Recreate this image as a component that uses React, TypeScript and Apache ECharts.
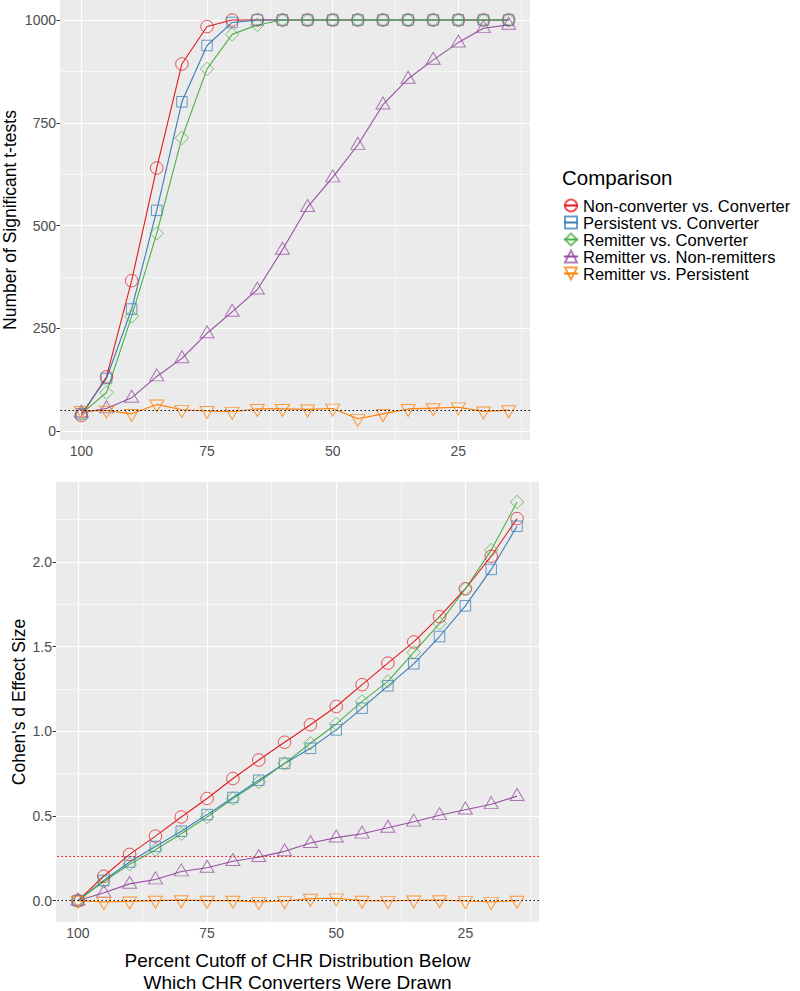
import React, { useEffect, useRef } from 'react';
import * as echarts from 'echarts';

// ---- data ----
const cutoffs = [100, 95, 90, 85, 80, 75, 70, 65, 60, 55, 50, 45, 40, 35, 30, 25, 20, 15];
const seriesNames = [
  'Non-converter vs. Converter',
  'Persistent vs. Converter',
  'Remitter vs. Converter',
  'Remitter vs. Non-remitters',
  'Remitter vs. Persistent',
];
const colors = ['#E41A1C', '#377EB8', '#4DAF4A', '#984EA3', '#FF7F00'];

// Number of significant t-tests (top panel)
const sigNonConv = [38, 132, 366, 640, 893, 984, 1000, 1000, 1000, 1000, 1000, 1000, 1000, 1000, 1000, 1000, 1000, 1000];
const sigPersConv = [42, 128, 297, 537, 801, 938, 994, 1000, 1000, 1000, 1000, 1000, 1000, 1000, 1000, 1000, 1000, 1000];
const sigRemConv = [42, 94, 279, 481, 713, 881, 965, 988, 1000, 1000, 1000, 1000, 1000, 1000, 1000, 1000, 1000, 1000];
const sigRemNon = [45, 55, 81, 133, 177, 238, 290, 344, 441, 545, 617, 696, 794, 857, 903, 945, 980, 988];
const sigRemPers = [49, 50, 42, 65, 52, 49, 47, 54, 54, 53, 55, 30, 42, 54, 56, 58, 48, 51];

// Cohen's d effect size (bottom panel)
const dNonConv = [0, 0.144, 0.273, 0.381, 0.494, 0.603, 0.721, 0.83, 0.935, 1.038, 1.146, 1.275, 1.402, 1.527, 1.676, 1.841, 2.033, 2.255];
const dPersConv = [0, 0.119, 0.228, 0.32, 0.41, 0.508, 0.609, 0.711, 0.81, 0.899, 1.008, 1.136, 1.268, 1.398, 1.559, 1.74, 1.955, 2.21];
const dRemConv = [0, 0.113, 0.215, 0.3, 0.395, 0.494, 0.603, 0.7, 0.81, 0.929, 1.043, 1.176, 1.294, 1.465, 1.637, 1.841, 2.069, 2.353];
const dRemNon = [0, 0.047, 0.099, 0.125, 0.172, 0.194, 0.233, 0.257, 0.291, 0.34, 0.372, 0.395, 0.43, 0.466, 0.504, 0.537, 0.569, 0.617];
const dRemPers = [0, -0.008, -0.004, 0, 0.003, 0, 0, -0.008, -0.002, 0.012, 0.014, 0, -0.002, 0.002, 0.003, -0.002, -0.008, 0];

// ticks / reference lines
const xTicks = [100, 75, 50, 25];
const xMinor = [87.5, 62.5, 37.5, 12.5];
const topYTicks = [0, 250, 500, 750, 1000];
const topYMinor = [125, 375, 625, 875];
const botYTicks = [0, 0.5, 1, 1.5, 2];
const botYMinor = [0.25, 0.75, 1.25, 1.75, 2.25];
const topRefLine = 50;
const botRefZero = 0;
const botRefRed = 0.26;

const topData = [sigNonConv, sigPersConv, sigRemConv, sigRemNon, sigRemPers];
const botData = [dNonConv, dPersConv, dRemConv, dRemNon, dRemPers];

const FONT = '"Liberation Sans", Arial, Helvetica, sans-serif';

const symbolDefs: any[] = [
  { symbol: 'circle', size: 12.5, offset: [0, 0] },
  { symbol: 'rect', size: 10.5, offset: [0, 0] },
  { symbol: 'diamond', size: 13.5, offset: [0, 0] },
  { symbol: 'path://M0,-1.347L1.555,0.778L-1.555,0.778Z', size: [14, 12], offset: [0, -1.6] },
  { symbol: 'path://M0,1.347L1.555,-0.778L-1.555,-0.778Z', size: [14, 12], offset: [0, 1.6] },
];

function hexA(hex: string, a: number) {
  const r = parseInt(hex.slice(1, 3), 16);
  const g = parseInt(hex.slice(3, 5), 16);
  const b = parseInt(hex.slice(5, 7), 16);
  return `rgba(${r},${g},${b},${a})`;
}

function dataSeries(values: number[], i: number, gi: number) {
  const s = symbolDefs[i];
  return {
    type: 'line',
    name: seriesNames[i],
    xAxisIndex: gi,
    yAxisIndex: gi,
    data: cutoffs.map((c, k) => [c, values[k]]),
    symbol: s.symbol,
    symbolSize: s.size,
    symbolOffset: s.offset,
    showAllSymbol: true,
    z: 3,
    lineStyle: { color: colors[i], width: 1.1 },
    itemStyle: { color: 'rgba(0,0,0,0)', borderColor: hexA(colors[i], 0.75), borderWidth: 1 },
    emphasis: { disabled: true },
  };
}

function gridLineSeries(gi: number, yMajor: number[], yMinor: number[]) {
  const minor = { color: '#FFFFFF', width: 0.6, type: 'solid' };
  const major = { color: '#FFFFFF', width: 1.2, type: 'solid' };
  return {
    type: 'line',
    xAxisIndex: gi,
    yAxisIndex: gi,
    data: [],
    silent: true,
    z: 1,
    markLine: {
      silent: true,
      symbol: ['none', 'none'],
      label: { show: false },
      z: 1,
      data: [
        ...yMinor.map((v) => ({ yAxis: v, lineStyle: minor })),
        ...xMinor.map((v) => ({ xAxis: v, lineStyle: minor })),
        ...yMajor.map((v) => ({ yAxis: v, lineStyle: major })),
        ...xTicks.map((v) => ({ xAxis: v, lineStyle: major })),
      ],
    },
  };
}

function refSeries(gi: number, lines: { v: number; color: string }[]) {
  return {
    type: 'line',
    xAxisIndex: gi,
    yAxisIndex: gi,
    data: [],
    silent: true,
    z: 4,
    markLine: {
      silent: true,
      symbol: ['none', 'none'],
      label: { show: false },
      z: 4,
      data: lines.map((l) => ({ yAxis: l.v, lineStyle: { color: l.color, width: 1.2, type: [1.5, 2.5] } })),
    },
  };
}

function xAxisCfg(gi: number, withName: boolean) {
  return {
    type: 'value',
    gridIndex: gi,
    inverse: true,
    min: 10.75,
    max: 104.25,
    axisLine: { show: false },
    splitLine: { show: false },
    axisTick: { show: true, length: 3.5, lineStyle: { color: '#333333', width: 1 }, customValues: xTicks },
    axisLabel: { color: '#4D4D4D', fontSize: 14, margin: 4, fontFamily: FONT, customValues: xTicks, formatter: (v: number) => String(v) },
    ...(withName
      ? {
          name: 'Percent Cutoff of CHR Distribution Below\nWhich CHR Converters Were Drawn',
          nameLocation: 'middle',
          nameGap: 27,
          nameMoveOverlap: false,
          nameTextStyle: { fontSize: 19, lineHeight: 22, color: '#000', fontFamily: FONT },
        }
      : {}),
  };
}

function yAxisCfg(gi: number, min: number, max: number, ticks: number[], name: string, nameGap: number, fmt: (v: number) => string) {
  return {
    type: 'value',
    gridIndex: gi,
    min,
    max,
    axisLine: { show: false },
    splitLine: { show: false },
    axisTick: { show: true, length: 3.5, lineStyle: { color: '#333333', width: 1 }, customValues: ticks },
    axisLabel: { color: '#4D4D4D', fontSize: 14, margin: 4, fontFamily: FONT, customValues: ticks, formatter: fmt },
    name,
    nameLocation: 'middle',
    nameGap,
    nameMoveOverlap: false,
    nameTextStyle: { fontSize: 17.5, color: '#000', fontFamily: FONT },
  };
}

export default function App() {
  const ref = useRef<HTMLDivElement>(null);
  useEffect(() => {
    if (!ref.current) return;
    const chart = echarts.init(ref.current, null, { renderer: 'svg' });
    const option: any = {
      animation: false,
      textStyle: { fontFamily: FONT },
      grid: [
        { left: 60, top: 0, width: 470, height: 440, show: true, backgroundColor: '#EBEBEB', borderWidth: 0, containLabel: false, outerBoundsMode: 'none' },
        { left: 56, top: 482, width: 483, height: 440, show: true, backgroundColor: '#EBEBEB', borderWidth: 0, containLabel: false, outerBoundsMode: 'none' },
      ],
      xAxis: [xAxisCfg(0, false), xAxisCfg(1, true)],
      yAxis: [
        yAxisCfg(0, -21.6, 1048.6, topYTicks, 'Number of Significant t-tests', 41, (v: number) => String(v)),
        yAxisCfg(1, -0.126, 2.471, botYTicks, "Cohen's d Effect Size", 28, (v: number) => v.toFixed(1)),
      ],
      legend: {
        orient: 'vertical',
        left: 558,
        top: 192,
        itemWidth: 14,
        itemHeight: 15,
        itemGap: 0,
        itemTextGap: 15,
        selectedMode: false,
        textStyle: { fontSize: 16.5, lineHeight: 15, color: '#000', fontFamily: FONT },
        data: seriesNames,
      },
      graphic: [
        {
          type: 'text',
          x: 562,
          y: 177,
          style: { text: 'Comparison', fontSize: 20.5, fill: '#000', fontFamily: FONT, verticalAlign: 'middle' },
        },
      ],
      series: [
        gridLineSeries(0, topYTicks, topYMinor),
        gridLineSeries(1, botYTicks, botYMinor),
        ...topData.map((d, i) => dataSeries(d, i, 0)),
        ...botData.map((d, i) => dataSeries(d, i, 1)),
        refSeries(0, [{ v: topRefLine, color: '#000000' }]),
        refSeries(1, [
          { v: botRefRed, color: '#FF0000' },
          { v: botRefZero, color: '#000000' },
        ]),
      ],
    };
    chart.setOption(option);
    return () => chart.dispose();
  }, []);
  return <div ref={ref} style={{ position: 'absolute', left: 0, top: 0, width: 800, height: 991 }} />;
}
